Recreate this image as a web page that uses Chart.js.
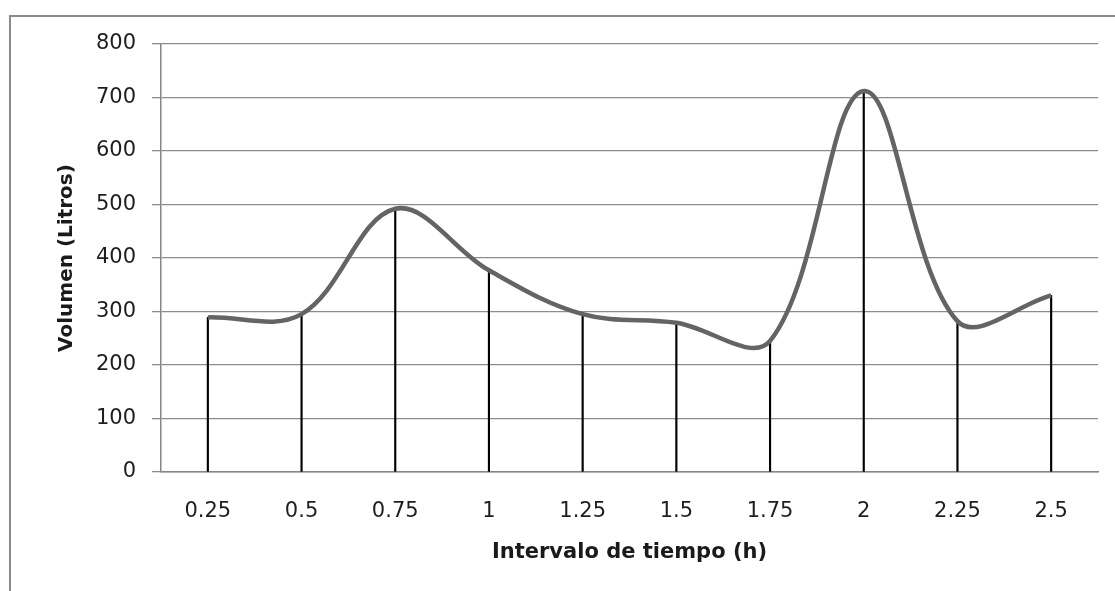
<!DOCTYPE html>
<html>
<head>
<meta charset="utf-8">
<script src="https://cdn.jsdelivr.net/npm/chart.js@4.4.1/dist/chart.umd.min.js"></script>
<style>
  html, body { margin: 0; padding: 0; background: #fff; }
  #wrap { position: relative; width: 1115px; height: 591px; overflow: hidden; }
  #frame {
    position: absolute; left: 9px; top: 15px; width: 1200px; height: 700px;
    border-left: 2px solid #8a8a8a; border-top: 2px solid #8a8a8a;
  }
  canvas { position: absolute; left: 0; top: 0; }
</style>
</head>
<body>
<div id="wrap">
  <div id="frame"></div>
  <canvas id="chart" width="1115" height="591"></canvas>
</div>
<script>
// data
const categories = ["0.25", "0.5", "0.75", "1", "1.25", "1.5", "1.75", "2", "2.25", "2.5"];
const volumes = [289, 295, 492, 377, 295, 279, 245, 712, 282, 330];
const yTicks = [0, 100, 200, 300, 400, 500, 600, 700, 800];

const tickFont = { family: "'DejaVu Sans', Verdana, sans-serif", size: 21 };
const titleFont = { family: "'DejaVu Sans', Verdana, sans-serif", size: 21, weight: "bold" };

new Chart(document.getElementById("chart"), {
    type: "bar",
    data: {
        labels: categories,
        datasets: [
            {
                // smooth series line
                type: "line",
                data: volumes,
                borderColor: "#646464",
                borderWidth: 4.5,
                pointRadius: 0,
                tension: 0.36,
                fill: false,
                order: 1
            },
            {
                // drop lines from each point down to the axis
                type: "bar",
                data: volumes,
                backgroundColor: "#000000",
                barThickness: 1.5,
                order: 2
            }
        ]
    },
    options: {
        responsive: false,
        animation: false,
        events: [],
        layout: { padding: { top: 44, right: 17, left: 0, bottom: 0 } },
        plugins: {
            legend: { display: false },
            tooltip: { enabled: false }
        },
        scales: {
            x: {
                grid: { display: false, drawTicks: false },
                border: { display: true, color: "#868686", width: 1.5 },
                ticks: { color: "#1e1e1e", font: tickFont, padding: 27, maxRotation: 0 },
                title: {
                    display: true,
                    text: "Intervalo de tiempo (h)",
                    color: "#1a1a1a",
                    font: titleFont,
                    padding: { top: 0, bottom: 26 }
                },
                afterFit: (scale) => { scale.height = 119; }
            },
            y: {
                min: 0,
                max: 800,
                afterBuildTicks: (scale) => { scale.ticks = yTicks.map(v => ({ value: v })); },
                grid: { color: "#8c8c8c", lineWidth: 1.3, tickLength: 9, drawTicks: true },
                border: { display: true, color: "#868686", width: 1.5 },
                ticks: { color: "#1e1e1e", font: tickFont, padding: 16 },
                title: {
                    display: true,
                    text: "Volumen (Litros)",
                    color: "#1a1a1a",
                    font: { family: titleFont.family, size: 20, weight: "bold" },
                    padding: { top: 55, bottom: 0 }
                },
                afterFit: (scale) => { scale.width = 161; }
            }
        }
    }
});
</script>
</body>
</html>
